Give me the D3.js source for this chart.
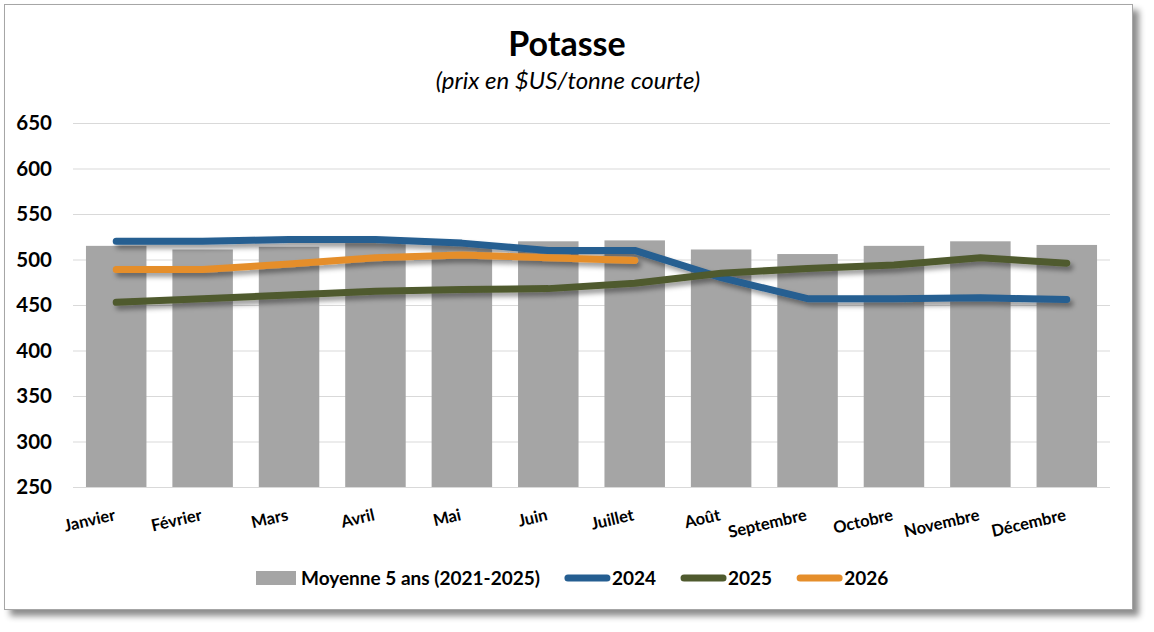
<!DOCTYPE html>
<html>
<head>
<meta charset="utf-8">
<script src="https://d3js.org/d3.v7.min.js"></script>
<style>
  body { margin: 0; background: #fff; }
  text { font-family: Lato, "Open Sans", sans-serif; }
</style>
</head>
<body>
<svg width="1154" height="632"></svg>
<script>
  const months = ['Janvier', 'Février', 'Mars', 'Avril', 'Mai', 'Juin', 'Juillet',
                  'Août', 'Septembre', 'Octobre', 'Novembre', 'Décembre'];
  const avg5 = [515, 511, 514, 518, 517, 520, 521, 511, 506, 515, 520, 516];
  const y2024 = [520, 520, 522, 522, 518, 510, 510, 480, 457, 457, 458, 456];
  const y2025 = [453, 457, 461, 465, 467, 468, 474, 485, 490, 494, 502, 496];
  const y2026 = [489, 489, 495, 502, 505, 502, 499];
  const yTicks = [250, 300, 350, 400, 450, 500, 550, 600, 650];

  const series = [
    {name: '2024', values: y2024, color: '#255e91'},
    {name: '2025', values: y2025, color: '#4f5a2e'},
    {name: '2026', values: y2026, color: '#e58e2b'}
  ];

  const svg = d3.select('svg');
  const defs = svg.append('defs');

  // shadows
  defs.append('filter').attr('id', 'boxShadow')
    .attr('x', '-5%').attr('y', '-5%').attr('width', '110%').attr('height', '115%')
    .append('feDropShadow')
    .attr('dx', 6).attr('dy', 6).attr('stdDeviation', 3)
    .attr('flood-color', '#000').attr('flood-opacity', 0.45);
  defs.append('filter').attr('id', 'lineShadow')
    .attr('x', '-10%').attr('y', '-50%').attr('width', '120%').attr('height', '200%')
    .append('feDropShadow')
    .attr('dx', 3).attr('dy', 4).attr('stdDeviation', 2.5)
    .attr('flood-color', '#000').attr('flood-opacity', 0.4);

  // chart frame
  svg.append('rect')
    .attr('x', 4.5).attr('y', 4.5).attr('width', 1128).attr('height', 605)
    .attr('fill', '#fff').attr('stroke', '#a6a6a6').attr('stroke-width', 1)
    .attr('filter', 'url(#boxShadow)');

  const margin = {left: 73, right: 44, top: 123, bottom: 145};
  const x = d3.scaleBand()
    .domain(months)
    .range([margin.left, 1154 - margin.right])
    .paddingInner(0.3)
    .paddingOuter(0.15);
  const y = d3.scaleLinear()
    .domain([250, 650])
    .range([632 - margin.bottom, margin.top]);

  // title
  svg.append('text')
    .attr('x', 567).attr('y', 56)
    .attr('text-anchor', 'middle')
    .attr('font-size', 34).attr('font-weight', 'bold')
    .text('Potasse');
  svg.append('text')
    .attr('x', 568).attr('y', 89)
    .attr('text-anchor', 'middle')
    .attr('font-size', 24).attr('font-style', 'italic')
    .text('(prix en $US/tonne courte)');

  // grid
  svg.append('g')
    .selectAll('line').data(yTicks).join('line')
    .attr('x1', margin.left).attr('x2', 1154 - margin.right)
    .attr('y1', d => y(d) + 0.5).attr('y2', d => y(d) + 0.5)
    .attr('stroke', '#d9d9d9').attr('stroke-width', 1);

  // y axis
  const yAxis = d3.axisLeft(y).tickValues(yTicks).tickSize(0).tickPadding(0);
  const gy = svg.append('g').attr('transform', 'translate(52,0)').call(yAxis);
  gy.select('.domain').remove();
  gy.selectAll('text')
    .attr('font-size', 20.5).attr('font-weight', 'bold').attr('fill', '#000')
    .attr('font-family', 'Lato, sans-serif');

  // bars
  svg.append('g')
    .selectAll('rect').data(avg5).join('rect')
    .attr('x', (d, i) => x(months[i]))
    .attr('y', d => y(d))
    .attr('width', x.bandwidth())
    .attr('height', d => y(250) - y(d))
    .attr('fill', '#a5a5a5');

  // x labels
  svg.append('g')
    .selectAll('text').data(months).join('text')
    .attr('transform', d => `translate(${x(d) + x.bandwidth() / 2},520) rotate(-13)`)
    .attr('text-anchor', 'end')
    .attr('font-size', 16.5).attr('font-weight', 'bold')
    .text(d => d);

  // lines
  const line = d3.line()
    .x((d, i) => x(months[i]) + x.bandwidth() / 2)
    .y(d => y(d));

  svg.append('g').attr('filter', 'url(#lineShadow)')
    .selectAll('path').data(series).join('path')
    .attr('d', d => line(d.values))
    .attr('fill', 'none')
    .attr('stroke', d => d.color)
    .attr('stroke-width', 7)
    .attr('stroke-linecap', 'round')
    .attr('stroke-linejoin', 'round');

  // legend
  const legend = svg.append('g').attr('transform', 'translate(256,578)');
  let lx = 0;
  legend.append('rect')
    .attr('x', 0).attr('y', -7).attr('width', 40).attr('height', 14)
    .attr('fill', '#a5a5a5');
  const t0 = legend.append('text')
    .attr('x', 45).attr('y', 6.5)
    .attr('font-size', 19).attr('font-weight', 'bold')
    .text('Moyenne 5 ans (2021-2025)');
  lx = 45 + t0.node().getComputedTextLength() + 24;
  series.forEach(s => {
    legend.append('line')
      .attr('x1', lx + 4).attr('x2', lx + 43)
      .attr('y1', 0).attr('y2', 0)
      .attr('stroke', s.color).attr('stroke-width', 7)
      .attr('stroke-linecap', 'round');
    const t = legend.append('text')
      .attr('x', lx + 48).attr('y', 6.5)
      .attr('font-size', 19).attr('font-weight', 'bold')
      .text(s.name);
    lx = lx + 48 + t.node().getComputedTextLength() + 24;
  });
</script>
</body>
</html>
